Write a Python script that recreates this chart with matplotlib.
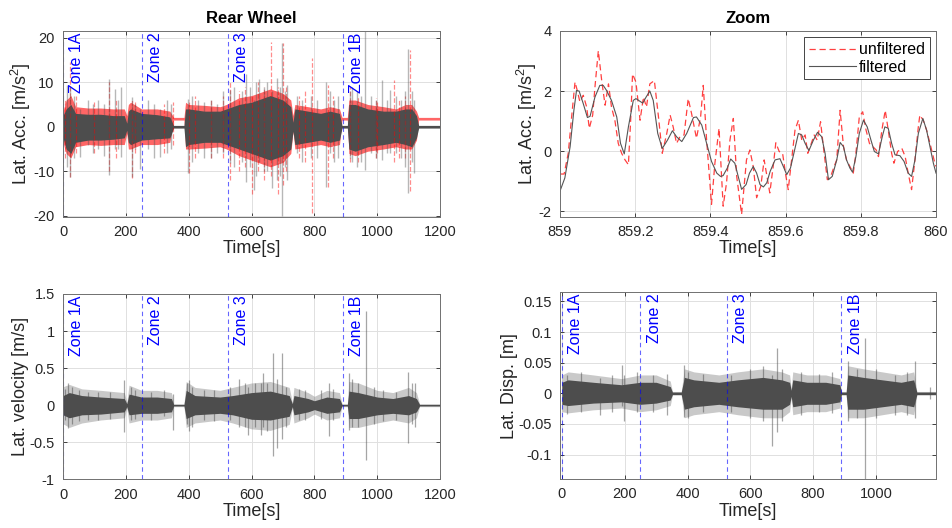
import numpy as np
import matplotlib
matplotlib.use("Agg")
import matplotlib.pyplot as plt
from matplotlib.ticker import FuncFormatter
from matplotlib.transforms import blended_transform_factory, offset_copy

plt.rcParams['font.family'] = ['Liberation Sans', 'DejaVu Sans']
plt.rcParams['axes.unicode_minus'] = False
plt.rcParams['mathtext.default'] = 'regular'

# zones
zones = [0, 250, 525, 890]
zone_names = ['Zone 1A', 'Zone 2', 'Zone 3', 'Zone 1B']

# ---- lateral acceleration, envelopes ----
acc_t = [0, 10, 25, 40, 80, 120, 160, 195, 203, 208, 215, 250, 300, 340, 352, 385, 390, 400, 450, 500,
         520, 560, 600, 640, 660, 700, 725, 732, 738, 780, 820, 850, 880, 888, 905, 910, 930, 970, 1020,
         1060, 1090, 1110, 1125, 1132, 1200]
acc_gray_hi = [2.5, 4, 5, 3, 2.8, 2.8, 2.5, 2.5, 0.8, 3.5, 4, 3, 2.7, 2.2, 0.3, 0.3, 4, 4, 3.5, 3.5,
               4, 5, 5.5, 6.5, 7, 6, 4.5, 1, 4, 3.5, 3, 3.5, 3, 0.3, 0.3, 5, 5, 4, 3.5,
               3.5, 4, 4, 2.5, 0.3, 0.3]
acc_gray_lo = [-2.5, -5, -6, -3.5, -3, -3, -2.8, -2.5, -0.8, -3.5, -4, -3, -2.7, -2.5, -0.3, -0.3, -4.5, -4, -3.5, -3.5,
               -4, -5, -6, -7, -7.5, -6.5, -5, -1, -4, -3.5, -3, -3.5, -3, -0.3, -0.3, -5, -5.5, -4.5, -4,
               -3.5, -4, -4.5, -2.5, -0.3, -0.3]
acc_red_hi = [3.5, 6, 7, 4.5, 4.2, 4.2, 4, 4, 2.5, 5, 5.5, 4, 4, 3.5, 2.1, 2.1, 5.5, 5, 4.8, 4.5,
              5, 6.5, 7, 8, 8.5, 7.5, 6, 2.5, 5, 4.5, 4, 4.5, 4, 2.1, 2.1, 6, 6, 5, 4.5,
              4, 5, 5, 3.5, 2.1, 2.1]
acc_red_lo = [-3.5, -6, -7, -4.5, -4, -4.2, -4, -4, -1.5, -5, -5, -4, -4, -3.5, 1.5, 1.5, -5, -5, -4.8, -4.5,
              -5, -6.5, -7.5, -8.5, -9, -8, -6, -1, -5, -4.5, -4, -4.5, -4, 1.5, 1.5, -6, -6.5, -5.5, -5,
              -4.5, -5, -5, -3, 1.5, 1.5]
acc_gray_spk_t = [12, 22, 35, 54, 78, 95, 110, 130, 145, 166, 175, 184, 219, 230, 244, 270, 290, 310, 330, 345,
                  398, 410, 430, 448, 470, 490, 510, 533, 545, 570, 581, 595, 607, 615, 623, 640, 650, 666, 680, 690,
                  698, 705, 714, 745, 760, 790, 810, 836, 850, 863, 875, 912, 920, 935, 950, 962, 980, 995, 1015, 1030,
                  1041, 1060, 1075, 1088, 1098, 1110, 1118]
acc_gray_spk_hi = [9.3, 8.9, 7, 4, 5.9, 5, 6, 5, 10.8, 8.5, 6, 8.9, 6.7, 5, 4, 6, 5, 4, 6, 5,
                   6.3, 7, 6, 5.5, 6, 5, 8, 8.2, 9, 8, 11.8, 9, 6, 10, 10.8, 9, 10, 8, 11, 9,
                   18.8, 8, 9.3, 7, 6, 7, 6, 10, 8, 6, 7, 8, 9, 8, 7, 21.5, 7, 6, 10.4, 6,
                   8.2, 7, 6, 8, 17.5, 8, 6]
acc_gray_spk_lo = [-9, -11.2, -7, -6.8, -4, -6, -5, -6.5, -10.8, -5, -5, -6.8, -11.2, -5, -9.4, -5, -7, -6.8, -6, -5,
                   -10.5, -8, -6, -7, -7, -6, -6, -8.2, -9, -8, -12.4, -9, -14.2, -11, -8, -10, -10, -13.8, -12, -11,
                   -20, -9, -12, -6, -8, -7, -7, -13.5, -6, -8, -7, -7, -8, -9, -8, -9.7, -6, -7, -7.5, -6,
                   -6, -6, -7, -9, -14.8, -8, -10.5]
acc_red_spk_t = [5, 22, 40, 100, 145, 170, 219, 230, 320, 349, 400, 420, 470, 510, 533, 560, 580, 600, 620, 640,
                 662, 685, 700, 710, 750, 770, 793, 842, 860, 915, 940, 996, 1000, 1052, 1070, 1090, 1105]
acc_red_spk_hi = [6, 14.5, 7, 6, 10, 6, 6, 6, 5, 5.5, 6, 7, 6, 7, 10, 8, 9, 7, 10, 9,
                  19.1, 9, 18.8, 9, 7, 8, 15.5, 9.4, 7, 9, 7, 6.5, 6, 10.5, 6, 7, 17.2]
acc_red_spk_lo = [-7, -11.2, -6, -6, -10, -7, -11.5, -6, -6, -4, -10.5, -7, -7, -7, -12, -10, -9, -15, -10, -12,
                  -11, -15, -13, -10, -7, -8, -19.4, -13.5, -7, -8, -8, -7, -6, -8, -7, -7, -14.5]

# ---- zoom 859-860 s ----
filt_dt = [0, 0.013, 0.027, 0.037, 0.044, 0.051, 0.062, 0.073, 0.080, 0.093,
           0.106, 0.115, 0.124, 0.137, 0.151, 0.161, 0.171, 0.182, 0.195, 0.202,
           0.220, 0.229, 0.239, 0.248, 0.260, 0.272, 0.286, 0.299, 0.310, 0.324,
           0.337, 0.355, 0.363, 0.377, 0.390, 0.403, 0.417, 0.427, 0.434, 0.445,
           0.454, 0.465, 0.474, 0.483, 0.495, 0.504, 0.514, 0.523, 0.532, 0.541,
           0.550, 0.559, 0.572, 0.585, 0.594, 0.603, 0.613, 0.622, 0.634, 0.643,
           0.652, 0.662, 0.674, 0.685, 0.696, 0.705, 0.714, 0.724, 0.736, 0.745,
           0.754, 0.762, 0.771, 0.778, 0.787, 0.796, 0.807, 0.817, 0.827, 0.836,
           0.847, 0.857, 0.864, 0.873, 0.882, 0.891, 0.904, 0.915, 0.926, 0.935,
           0.944, 0.953, 0.965, 0.975, 0.984, 0.993, 1.0]
filt_v = [-1.33, -0.89, 0.15, 1.36, 2.02, 2.0, 1.58, 1.12, 1.16, 1.8,
          2.19, 2.19, 2.02, 1.69, 1.14, 0.26, -0.09, 0.81, 1.69, 1.75,
          1.60, 1.8, 2.0, 1.69, 0.59, 0.09, 0.37, 0.68, 0.48, 0.32,
          0.59, 1.12, 1.14, 0.87, 0.26, -0.34, -0.73, -0.84, -0.81, -0.56,
          -0.26, -0.4, -0.84, -1.27, -1.11, -0.73, -0.51, -0.73, -1.11, -1.19,
          -1.05, -0.67, -0.29, -0.25, -0.51, -0.78, -0.56, -0.07, 0.59, 0.54,
          0.26, 0.02, 0.37, 0.63, 0.48, -0.07, -0.95, -0.84, -0.29, 0.29,
          0.15, -0.29, -0.56, -0.70, -0.18, 0.59, 1.03, 0.81, 0.37, -0.01,
          -0.09, 0.48, 0.81, 0.76, 0.26, -0.12, -0.15, -0.34, -0.73, -0.84,
          -0.29, 0.59, 1.09, 0.70, 0.15, -0.40, -0.73]
raw_dt = [0, 0.011, 0.022, 0.031, 0.040, 0.046, 0.053, 0.062, 0.071, 0.078,
          0.087, 0.093, 0.102, 0.111, 0.120, 0.129, 0.137, 0.146, 0.155, 0.164,
          0.173, 0.182, 0.188, 0.193, 0.202, 0.213, 0.222, 0.230, 0.239, 0.251,
          0.262, 0.272, 0.284, 0.293, 0.301, 0.310, 0.319, 0.330, 0.341, 0.350,
          0.363, 0.374, 0.381, 0.390, 0.403, 0.412, 0.423, 0.434, 0.443, 0.452,
          0.461, 0.470, 0.483, 0.496, 0.505, 0.514, 0.523, 0.534, 0.543, 0.558,
          0.567, 0.574, 0.583, 0.592, 0.601, 0.607, 0.616, 0.625, 0.634, 0.643,
          0.652, 0.659, 0.667, 0.676, 0.684, 0.693, 0.702, 0.711, 0.720, 0.729,
          0.736, 0.745, 0.754, 0.762, 0.771, 0.780, 0.787, 0.796, 0.805, 0.814,
          0.823, 0.832, 0.841, 0.847, 0.856, 0.865, 0.873, 0.882, 0.888, 0.898,
          0.909, 0.918, 0.926, 0.935, 0.944, 0.953, 0.957, 0.966, 0.975, 0.984,
          0.997, 1.0]
raw_v = [-0.76, -0.76, -0.07, 1.14, 2.3, 2.02, 1.64, 1.86, 1.47, 0.76,
         1.2, 2.13, 3.34, 2.35, 1.53, 2.24, 1.47, 1.03, 0.26, -0.07,
         -0.29, -0.45, 1.03, 2.57, 2.3, 1.03, 1.8, 1.47, 2.24, 2.35,
         1.14, -0.07, 0.59, 1.2, 0.81, 0.26, 0.48, 0.54, 1.75, 1.25,
         0.43, 1.14, 2.19, 0.37, -1.77, -0.40, 0.76, -1.83, -1.05, 0.37,
         1.09, -0.84, -2.1, -0.29, 0.04, -0.51, -1.55, -1.17, -0.29, -1.39,
         -0.51, 0.28, -0.01, -0.07, -0.84, -1.28, -0.29, 0.70, 1.03, 0.37,
         0.54, -0.07, 0.21, 0.54, 0.37, 0.98, -0.01, -0.95, -0.84, -0.51,
         -0.29, 1.36, 0.15, -0.29, -0.51, -0.73, -0.07, 1.14, 1.31, 0.70,
         0.26, 0.15, 0.04, -0.18, 0.70, 1.36, 0.70, -0.07, -0.40, -0.01,
         0.10, -0.18, -0.73, -1.28, -0.29, 0.81, 1.2, 1.03, 0.70, 0.26,
         -0.40, -0.51]

# ---- lateral velocity ----
vel_t = [0, 20, 60, 120, 195, 203, 210, 250, 300, 345, 352, 385, 392, 420, 500, 540, 600, 660, 720, 730,
         735, 780, 800, 840, 880, 888, 905, 910, 940, 1000, 1050, 1100, 1125, 1135, 1200]
vel_hi = [0.13, 0.17, 0.13, 0.11, 0.09, 0.02, 0.15, 0.11, 0.11, 0.09, 0.01, 0.01, 0.2, 0.13, 0.11, 0.13, 0.17, 0.19, 0.13, 0.02,
          0.13, 0.09, 0.06, 0.11, 0.09, 0.01, 0.01, 0.19, 0.17, 0.11, 0.09, 0.13, 0.09, 0.01, 0.01]
vel_lo = [-0.13, -0.17, -0.13, -0.12, -0.09, -0.02, -0.13, -0.11, -0.11, -0.09, -0.01, -0.01, -0.18, -0.13, -0.11, -0.13, -0.19, -0.2, -0.15, -0.02,
          -0.13, -0.09, -0.06, -0.11, -0.09, -0.01, -0.01, -0.18, -0.18, -0.13, -0.11, -0.13, -0.09, -0.01, -0.01]
vel_out_hi = [0.25, 0.28, 0.22, 0.2, 0.17, 0.04, 0.27, 0.2, 0.2, 0.17, 0.02, 0.02, 0.32, 0.24, 0.2, 0.24, 0.3, 0.32, 0.24, 0.04,
              0.24, 0.17, 0.12, 0.2, 0.17, 0.02, 0.02, 0.32, 0.3, 0.2, 0.17, 0.24, 0.17, 0.02, 0.02]
vel_out_lo = [-0.25, -0.3, -0.24, -0.2, -0.17, -0.04, -0.24, -0.2, -0.2, -0.17, -0.02, -0.02, -0.3, -0.24, -0.2, -0.24, -0.32, -0.34, -0.26, -0.04,
              -0.24, -0.17, -0.12, -0.2, -0.17, -0.02, -0.02, -0.3, -0.3, -0.24, -0.2, -0.24, -0.17, -0.02, -0.02]
vel_spk_t = [5, 15, 30, 50, 80, 110, 150, 193, 215, 230, 280, 320, 349, 395, 400, 410, 450, 480, 530, 560,
             580, 590, 610, 631, 637, 650, 668, 682, 698, 710, 750, 770, 820, 846, 860, 911, 920, 940, 964, 990,
             1020, 1060, 1097, 1110, 1120]
vel_spk_hi = [0.22, 0.3, 0.25, 0.2, 0.18, 0.18, 0.18, 0.34, 0.25, 0.2, 0.18, 0.2, 0.15, 0.3, 0.34, 0.25, 0.2, 0.2, 0.25, 0.35,
              0.3, 0.25, 0.3, 0.3, 0.43, 0.3, 0.7, 0.35, 0.7, 0.25, 0.22, 0.2, 0.2, 0.3, 0.22, 0.43, 0.35, 0.3, 1.27, 0.25,
              0.2, 0.18, 0.45, 0.3, 0.3]
vel_spk_lo = [-0.2, -0.31, -0.25, -0.22, -0.2, -0.2, -0.18, -0.36, -0.2, -0.18, -0.2, -0.15, -0.33, -0.25, -0.35, -0.3, -0.2, -0.22, -0.2, -0.3,
              -0.3, -0.4, -0.3, -0.4, -0.3, -0.35, -0.69, -0.58, -0.45, -0.3, -0.2, -0.2, -0.18, -0.42, -0.2, -0.33, -0.3, -0.3, -0.74, -0.25,
              -0.22, -0.2, -0.51, -0.25, -0.3]

# ---- lateral displacement ----
disp_t = [0, 20, 100, 190, 250, 300, 345, 352, 380, 390, 420, 500, 560, 640, 700, 725, 730, 735, 780, 840,
          885, 890, 905, 910, 960, 1020, 1080, 1120, 1130, 1190]
disp_hi = [0.018, 0.022, 0.018, 0.014, 0.018, 0.018, 0.011, 0.002, 0.002, 0.026, 0.022, 0.018, 0.022, 0.026, 0.022, 0.018, 0.005, 0.022, 0.018, 0.018,
           0.014, 0.002, 0.002, 0.03, 0.026, 0.022, 0.018, 0.022, 0.002, 0.002]
disp_lo = [-0.018, -0.02, -0.016, -0.014, -0.018, -0.016, -0.011, -0.002, -0.002, -0.026, -0.022, -0.018, -0.022, -0.026, -0.026, -0.018, -0.005, -0.022, -0.018, -0.018,
           -0.014, -0.002, -0.002, -0.026, -0.026, -0.022, -0.018, -0.022, -0.002, -0.002]
disp_out_hi = [0.03, 0.035, 0.03, 0.024, 0.03, 0.03, 0.02, 0.003, 0.003, 0.04, 0.035, 0.03, 0.035, 0.04, 0.035, 0.03, 0.008, 0.035, 0.03, 0.03,
               0.024, 0.003, 0.003, 0.045, 0.04, 0.035, 0.03, 0.035, 0.003, 0.003]
disp_out_lo = [-0.03, -0.032, -0.027, -0.024, -0.03, -0.027, -0.02, -0.003, -0.003, -0.04, -0.035, -0.03, -0.035, -0.04, -0.04, -0.03, -0.008, -0.035, -0.03, -0.03,
               -0.024, -0.003, -0.003, -0.04, -0.04, -0.035, -0.03, -0.035, -0.003, -0.003]
disp_spk_t = [15, 60, 120, 160, 193, 197, 240, 290, 335, 390, 400, 450, 540, 600, 640, 668, 686, 700, 760, 820,
              860, 912, 940, 965, 1000, 1060, 1100, 1124, 1172]
disp_spk_hi = [0.03, 0.035, 0.025, 0.03, 0.046, 0.03, 0.035, 0.03, 0.032, 0.046, 0.035, 0.032, 0.03, 0.04, 0.045, 0.03, 0.074, 0.04, 0.035, 0.032,
               0.035, 0.052, 0.04, 0.09, 0.04, 0.03, 0.035, 0.052, 0.01]
disp_spk_lo = [-0.033, -0.03, -0.035, -0.03, -0.02, -0.046, -0.03, -0.03, -0.035, -0.038, -0.04, -0.03, -0.03, -0.04, -0.045, -0.086, -0.063, -0.045, -0.035, -0.03,
               -0.032, -0.046, -0.04, -0.14, -0.04, -0.035, -0.035, -0.041, -0.01]

GRAY = '#4d4d4d'
TXT = '#262626'
fmt = FuncFormatter(lambda v, p: '%g' % v)


def style(ax):
    ax.grid(True, color='#e0e0e0', lw=0.7)
    ax.set_axisbelow(True)
    ax.tick_params(direction='in', length=3, width=0.6, colors=TXT, labelsize=10.5,
                   top=True, right=True, pad=6)
    for s in ax.spines.values():
        s.set_color('#707070')
        s.set_linewidth(0.7)
    ax.xaxis.set_major_formatter(fmt)
    ax.yaxis.set_major_formatter(fmt)


def zone_marks(ax, fig):
    tr = blended_transform_factory(ax.transData, ax.transAxes)
    tr_txt = offset_copy(tr, fig=fig, x=4.5, y=-1, units='points')
    for z, name in zip(zones, zone_names):
        ax.axvline(z, color='#0000ff', alpha=0.6, ls='--', lw=0.8, dashes=(4, 3))
        ax.text(z, 1.0, name, transform=tr_txt, rotation=90, ha='left', va='top',
                color='#0000ff', fontsize=11.5)


fig = plt.figure(figsize=(9.52, 5.28), dpi=100)
ax1 = fig.add_axes([0.0662, 0.5896, 0.396, 0.3517])
ax2 = fig.add_axes([0.5882, 0.5896, 0.395, 0.3517])
ax3 = fig.add_axes([0.0662, 0.0922, 0.396, 0.351])
ax4 = fig.add_axes([0.5882, 0.0928, 0.395, 0.3536])

LAB = 13

# top-left: acceleration
ax1.fill_between(acc_t, acc_red_lo, acc_red_hi, color='#ff0000', alpha=0.6, lw=0)
ax1.vlines(acc_red_spk_t, acc_red_spk_lo, acc_red_spk_hi, colors='#ff0000', alpha=0.45,
           lw=0.9, linestyles='--')
ax1.vlines(acc_gray_spk_t, acc_gray_spk_lo, acc_gray_spk_hi, colors=GRAY, alpha=0.4, lw=1.0)
ax1.fill_between(acc_t, acc_gray_lo, acc_gray_hi, color=GRAY, lw=0)
style(ax1)
zone_marks(ax1, fig)
ax1.set_xlim(0, 1200)
ax1.set_ylim(-20.2, 21.5)
ax1.set_xticks(range(0, 1201, 200))
ax1.set_yticks([-20, -10, 0, 10, 20])
ax1.set_title('Rear Wheel', fontsize=12, fontweight='bold', color='black', pad=6)
ax1.set_xlabel('Time[s]', fontsize=LAB, color=TXT, labelpad=1)
ax1.set_ylabel('Lat. Acc. [m/s$^2$]', fontsize=LAB, color=TXT, labelpad=0)

# top-right: zoom
ax2.plot(859 + np.array(raw_dt), raw_v, color='#ff0000', alpha=0.75, ls='--', lw=0.9,
         dashes=(5, 3), label='unfiltered')
ax2.plot(859 + np.array(filt_dt), filt_v, color='#555555', lw=0.8, label='filtered')
style(ax2)
ax2.set_xlim(859, 860)
ax2.set_ylim(-2.18, 4)
ax2.set_xticks([859, 859.2, 859.4, 859.6, 859.8, 860])
ax2.set_yticks([-2, 0, 2, 4])
ax2.set_title('Zoom', fontsize=12, fontweight='bold', color='black', pad=6)
ax2.set_xlabel('Time[s]', fontsize=LAB, color=TXT, labelpad=1)
ax2.set_ylabel('Lat. Acc. [m/s$^2$]', fontsize=LAB, color=TXT, labelpad=0)
leg = ax2.legend(loc='upper right', fontsize=11.5, fancybox=False, framealpha=1,
                 edgecolor=TXT, handlelength=3.0, borderpad=0.3, labelspacing=0.15,
                 handletextpad=0.15, borderaxespad=0.4)
leg.get_frame().set_linewidth(0.6)

# bottom-left: velocity
ax3.vlines(vel_spk_t, vel_spk_lo, vel_spk_hi, colors=GRAY, alpha=0.5, lw=0.9)
ax3.fill_between(vel_t, vel_out_lo, vel_out_hi, color=GRAY, alpha=0.3, lw=0)
ax3.fill_between(vel_t, vel_lo, vel_hi, color=GRAY, lw=0)
style(ax3)
zone_marks(ax3, fig)
ax3.set_xlim(0, 1200)
ax3.set_ylim(-1, 1.5)
ax3.set_xticks(range(0, 1201, 200))
ax3.set_yticks([-1, -0.5, 0, 0.5, 1, 1.5])
ax3.set_xlabel('Time[s]', fontsize=LAB, color=TXT, labelpad=1)
ax3.set_ylabel('Lat. velocity [m/s]', fontsize=LAB, color=TXT, labelpad=0)

# bottom-right: displacement
ax4.vlines(disp_spk_t, disp_spk_lo, disp_spk_hi, colors=GRAY, alpha=0.5, lw=0.9)
ax4.fill_between(disp_t, disp_out_lo, disp_out_hi, color=GRAY, alpha=0.3, lw=0)
ax4.fill_between(disp_t, disp_lo, disp_hi, color=GRAY, lw=0)
style(ax4)
zone_marks(ax4, fig)
ax4.set_xlim(-6, 1191)
ax4.set_ylim(-0.14, 0.165)
ax4.set_xticks(range(0, 1001, 200))
ax4.set_yticks([-0.1, -0.05, 0, 0.05, 0.1, 0.15])
ax4.set_xlabel('Time[s]', fontsize=LAB, color=TXT, labelpad=1)
ax4.set_ylabel('Lat. Disp. [m]', fontsize=LAB, color=TXT, labelpad=0)

fig.savefig('out.png', dpi=100)
